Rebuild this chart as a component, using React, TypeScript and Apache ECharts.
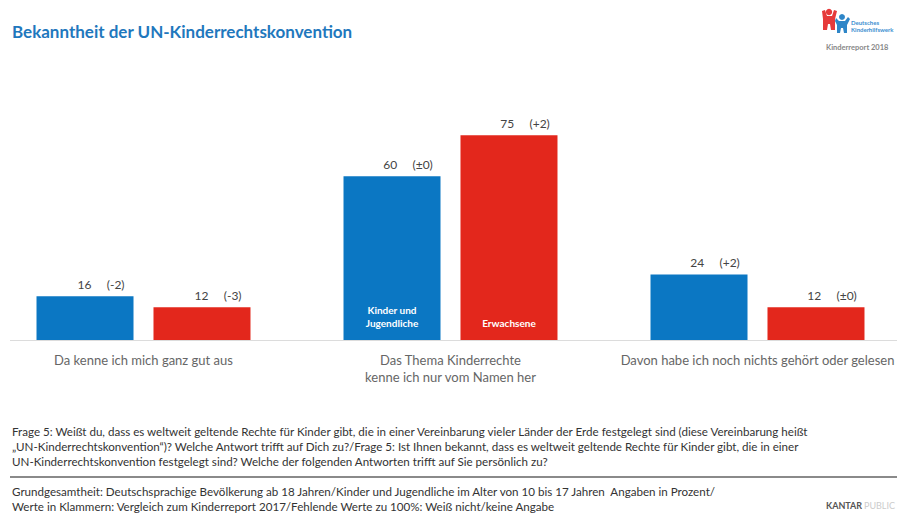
import React, { useEffect, useRef } from "react";
import * as echarts from "echarts";

const categories = [
  "Da kenne ich mich ganz gut aus",
  "Das Thema Kinderrechte\nkenne ich nur vom Namen her",
  "Davon habe ich noch nichts gehört oder gelesen",
];
const kinderValues = [16, 60, 24];
const kinderChanges = ["(-2)", "(±0)", "(+2)"];
const erwachseneValues = [12, 75, 12];
const erwachseneChanges = ["(-3)", "(+2)", "(±0)"];
const seriesNames = ["Kinder und\nJugendliche", "Erwachsene"];
const insideLabelIndex = 1;

const title = "Bekanntheit der UN-Kinderrechtskonvention";
const footnote1 = [
  "Frage 5: Weißt du, dass es weltweit geltende Rechte für Kinder gibt, die in einer Vereinbarung vieler Länder der Erde festgelegt sind (diese Vereinbarung heißt",
  "„UN-Kinderrechtskonvention“)? Welche Antwort trifft auf Dich zu?/Frage 5: Ist Ihnen bekannt, dass es weltweit geltende Rechte für Kinder gibt, die in einer",
  "UN-Kinderrechtskonvention festgelegt sind? Welche der folgenden Antworten trifft auf Sie persönlich zu?",
];
const footnote2 = [
  "Grundgesamtheit: Deutschsprachige Bevölkerung ab 18 Jahren/Kinder und Jugendliche im Alter von 10 bis 17 Jahren  Angaben in Prozent/",
  "Werte in Klammern: Vergleich zum Kinderreport 2017/Fehlende Werte zu 100%: Weiß nicht/keine Angabe",
];

const BLUE = "#0b77c3";
const RED = "#e3271c";
const FONT = "Lato, 'Liberation Sans', sans-serif";
const SHIFT = 10; // chart canvas starts 10px left of the page

export default function App() {
  const ref = useRef<HTMLDivElement>(null);
  useEffect(() => {
    document.body.style.margin = "0";
    if (!ref.current) return;
    const chart = echarts.init(ref.current, null, { renderer: "svg" });
    const X = (x: number) => x + SHIFT;

    const makeSeries = (name: string, values: number[], changes: string[], color: string) => ({
      type: "bar",
      name,
      barWidth: 97,
      barGap: "20.6%",
      itemStyle: { color },
      data: values.map((v, i) => ({ value: v, change: changes[i] })),
      label: {
        show: true,
        position: "top",
        distance: 6,
        offset: [16, 0],
        color: "#444",
        fontFamily: FONT,
        fontSize: 12,
        formatter: (p: any) => `${p.value}     ${p.data.change}`,
      },
      markPoint: {
        symbol: "circle",
        symbolSize: 1,
        itemStyle: { color: "transparent" },
        silent: true,
        data: [{ coord: [insideLabelIndex, 0] }],
        label: {
          show: true,
          position: "top",
          distance: 10,
          color: "#fff",
          fontFamily: FONT,
          fontWeight: "bold",
          fontSize: 10,
          lineHeight: 13,
          formatter: () => name,
        },
      },
    });

    const graphics: any[] = [
      {
        type: "text",
        left: X(12),
        top: 23,
        style: { text: title, fill: "#1f78bd", font: `bold 17px ${FONT}` },
      },
      // logo
      { type: "circle", shape: { cx: X(829), cy: 12, r: 3.2 }, style: { fill: "#e63a3a" } },
      {
        type: "polygon",
        shape: { points: [[822, 11], [825, 10], [827, 16], [832, 16], [834, 10], [837, 11], [835, 19], [835, 30], [831, 30], [830, 24], [828, 24], [827, 30], [823, 30], [823, 19]].map((p) => [X(p[0]), p[1]]) },
        style: { fill: "#e63a3a" },
      },
      { type: "circle", shape: { cx: X(842), cy: 17, r: 3 }, style: { fill: "#2e86c8" } },
      {
        type: "polygon",
        shape: { points: [[836, 18], [839, 21], [845, 21], [848, 17], [850, 19], [847, 25], [847, 33], [844, 33], [843, 28], [841, 28], [840, 33], [837, 33], [837, 25], [835, 21]].map((p) => [X(p[0]), p[1]]) },
        style: { fill: "#2e86c8" },
      },
      { type: "text", left: X(851), top: 19, style: { text: "Deutsches", fill: "#3a8ed0", font: `bold 6px ${FONT}` } },
      { type: "text", left: X(851), top: 26, style: { text: "Kinderhilfswerk", fill: "#3a8ed0", font: `bold 6px ${FONT}` } },
      { type: "text", left: X(826), top: 43, style: { text: "Kinderreport 2018", fill: "#888", font: `bold 7.5px ${FONT}` } },
      // axis base line
      { type: "line", shape: { x1: X(10), y1: 340.5, x2: X(897), y2: 340.5 }, style: { stroke: "#dcdcdc", lineWidth: 1 } },
      // separator
      { type: "line", shape: { x1: X(10), y1: 477, x2: X(897), y2: 477 }, style: { stroke: "#8a8a8a", lineWidth: 2 } },
      { type: "text", left: X(826), top: 501, style: { text: "KANTAR", fill: "#555", font: `bold 9px ${FONT}` } },
      { type: "text", left: X(864), top: 501, style: { text: "PUBLIC", fill: "#ccc", font: `9px ${FONT}` } },
    ];
    footnote1.forEach((t, i) =>
      graphics.push({ type: "text", left: X(12), top: 425 + i * 15, style: { text: t, fill: "#333", font: `11.6px ${FONT}` } })
    );
    footnote2.forEach((t, i) =>
      graphics.push({ type: "text", left: X(12), top: 485 + i * 15, style: { text: t, fill: "#333", font: `11.6px ${FONT}` } })
    );

    chart.setOption({
      animation: false,
      backgroundColor: "#fff",
      grid: { left: 0, right: 0, top: 67, bottom: 178, containLabel: false },
      xAxis: {
        type: "category",
        data: categories,
        axisLine: { show: false },
        axisTick: { show: false },
        axisLabel: { color: "#666", fontFamily: FONT, fontSize: 13, margin: 11, lineHeight: 17, interval: 0 },
      },
      yAxis: { type: "value", min: 0, max: 100, show: false, splitLine: { show: false } },
      series: [
        makeSeries(seriesNames[0], kinderValues, kinderChanges, BLUE),
        makeSeries(seriesNames[1], erwachseneValues, erwachseneChanges, RED),
      ],
      graphic: graphics,
    });

    return () => chart.dispose();
  }, []);

  return (
    <div style={{ position: "relative", width: 897, height: 518, overflow: "hidden" }}>
      <div ref={ref} style={{ position: "absolute", left: -SHIFT, top: 0, width: 921, height: 518 }} />
    </div>
  );
}
